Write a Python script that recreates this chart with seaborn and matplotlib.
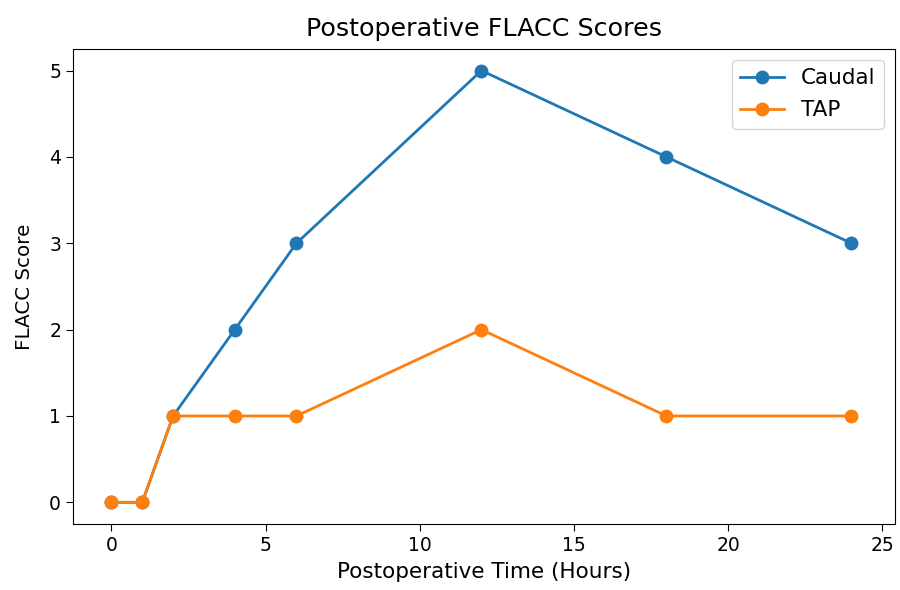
import matplotlib
matplotlib.use("Agg")
import matplotlib.pyplot as plt
import seaborn as sns
import pandas as pd

hours = [0, 1, 2, 4, 6, 12, 18, 24]
caudal = [0, 0, 1, 2, 3, 5, 4, 3]
tap = [0, 0, 1, 1, 1, 2, 1, 1]

df = pd.DataFrame({
    "Hours": hours * 2,
    "Score": caudal + tap,
    "Group": ["Caudal"] * len(hours) + ["TAP"] * len(hours),
})

fig = plt.figure(figsize=(9, 5.9), dpi=100)
ax = fig.add_axes([0.081, 0.112, 0.913, 0.805])
sns.lineplot(data=df, x="Hours", y="Score", hue="Group",
             palette=["#1f77b4", "#ff7f0e"], marker="o", markersize=10,
             markeredgewidth=0, linewidth=2, ax=ax)

ax.set_title("Postoperative FLACC Scores", fontsize=18.3, pad=9)
ax.set_xlabel("Postoperative Time (Hours)", fontsize=15.5, labelpad=5)
ax.set_ylabel("FLACC Score", fontsize=14.3, labelpad=11)
ax.tick_params(labelsize=13.5, length=5)
ax.set_xticks([0, 5, 10, 15, 20, 25])
ax.set_xlim(-1.25, 25.4)
leg = ax.legend(loc="upper right", fontsize=15.5, labelspacing=0.55)
leg.get_frame().set_edgecolor("#cccccc")

fig.savefig("out.png", dpi=100)
